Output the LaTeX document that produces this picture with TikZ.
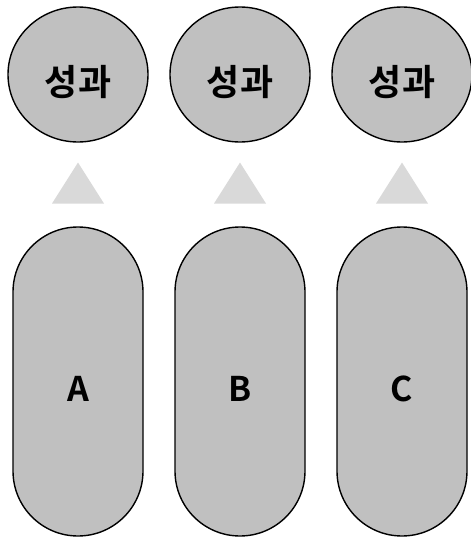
\documentclass[tikz,border=0pt]{standalone}
\usepackage{fontspec}
\newfontfamily\kofont{Noto Sans CJK KR Bold}
\usetikzlibrary{positioning,shapes.geometric}

\begin{document}
\begin{tikzpicture}[x=1pt, y=-1pt, on grid, font=\kofont]

		\useasboundingbox (0,0) rectangle (471,541);

		\tikzstyle{result} = [draw, ellipse, line width=1.4pt, fill={rgb,255:red,192;green,192;blue,192}, minimum width=140pt, minimum height=135pt, inner sep=0pt, text height=41pt, text depth=0pt, font=\kofont\fontsize{36}{36}\selectfont]
		\tikzstyle{pillar} = [draw, rectangle, rounded corners=65pt, line width=1.4pt, fill={rgb,255:red,192;green,192;blue,192}, minimum width=130pt, minimum height=309pt, text height=40pt, text depth=0pt, font=\kofont\fontsize{34}{34}\selectfont]
		\tikzstyle{lift} = [isosceles triangle, shape border rotate=90, isosceles triangle stretches, fill={rgb,255:red,217;green,217;blue,217}, minimum width=52pt, minimum height=41pt, inner sep=0pt, anchor=apex]

		% Results
		\node[result] (resA) at (78,74.5) {성과};
		\node[result] (resB) at (240,74.5) {성과};
		\node[result] (resC) at (402,74.5) {성과};

		% Pillars
		\node[pillar] (A) at (78,381.5) {A};
		\node[pillar] (B) at (240,381.5) {B};
		\node[pillar] (C) at (402,381.5) {C};

		% Arrows
		\node[lift] (upA) at (78,162) {};
		\node[lift] (upB) at (240,162) {};
		\node[lift] (upC) at (402,162) {};

	\end{tikzpicture}
\end{document}
